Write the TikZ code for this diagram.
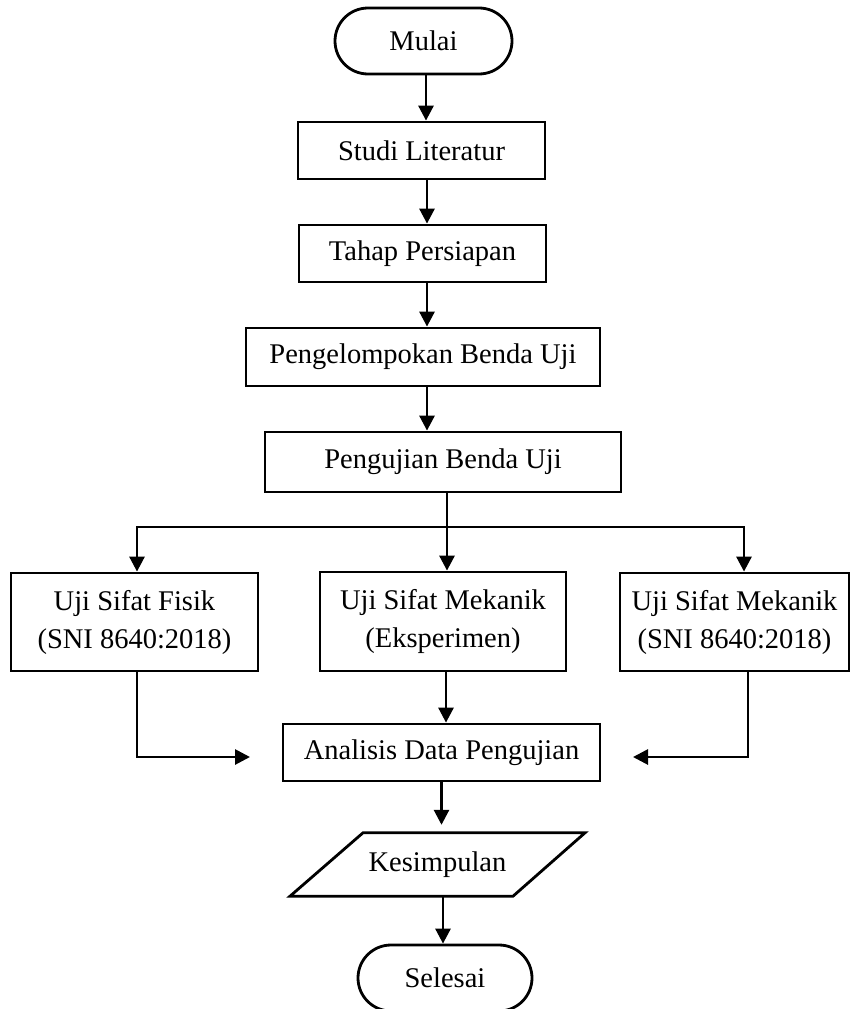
\documentclass[tikz,border=0pt]{standalone}
\usepackage{fontspec}
\setmainfont{Liberation Serif}
\usetikzlibrary{arrows.meta,calc}
\begin{document}
\begin{tikzpicture}[x=1pt,y=-1pt,
  every node/.style={font=\fontsize{28.5}{38}\selectfont, inner sep=0pt, align=center},
  box/.style={draw, line width=2.8pt, rectangle},
  term/.style={draw, line width=2.8pt, rectangle, rounded corners=33pt},
  conn/.style={line width=2.8pt, -{Triangle[width=15pt,length=15pt]}},
  plain/.style={line width=2.8pt}]
\useasboundingbox (0,0) rectangle (854,1009);
\clip (0,0) rectangle (854,1009);

\node[term, minimum width=177pt, minimum height=66pt] (mulai) at (423.5,41) {Mulai};
\node[box, minimum width=247pt, minimum height=57pt] (studi) at (421.5,150.5) {Studi Literatur};
\node[box, minimum width=247pt, minimum height=57pt] (tahap) at (422.5,253.5) {Tahap Persiapan};
\node[box, minimum width=354pt, minimum height=58pt] (kelompok) at (423,357) {Pengelompokan Benda Uji};
\node[box, minimum width=356pt, minimum height=60pt] (uji) at (443,462) {Pengujian Benda Uji};
\node[box, minimum width=247pt, minimum height=98pt] (fisik) at (134.5,622) {Uji Sifat Fisik\\(SNI 8640:2018)};
\node[box, minimum width=246pt, minimum height=99pt] (eksp) at (443,621.5) {Uji Sifat Mekanik\\(Eksperimen)};
\node[box, minimum width=229pt, minimum height=98pt] (sni) at (734.5,622) {Uji Sifat Mekanik\\(SNI 8640:2018)};
\node[box, minimum width=317pt, minimum height=57pt] (analisis) at (441.5,752.5) {Analisis Data Pengujian};
\node[minimum width=150pt, minimum height=63pt] (kes) at (437.5,864.5) {Kesimpulan};
\draw[plain] ($(kes.north)+(-74.5,0)$) -- ++(222,0) -- ($(kes.south)+(75.5,0)$) -- ++(-223,0) -- cycle;
\node[term, minimum width=174pt, minimum height=66pt] (selesai) at (445,978) {Selesai};

\draw[conn] ([xshift=2.5pt]mulai.south) -- ([xshift=2.5pt]mulai.south |- studi.north);
\draw[conn] ([xshift=5.5pt]studi.south) -- ([xshift=5.5pt]studi.south |- tahap.north);
\draw[conn] ([xshift=4.5pt]tahap.south) -- ([xshift=4.5pt]tahap.south |- kelompok.north);
\draw[conn] ([xshift=4pt]kelompok.south) -- ([xshift=4pt]kelompok.south |- uji.north);

\coordinate (split) at (447,527);
\coordinate (bl) at (137,527);
\coordinate (br) at (744,527);
\draw[conn] ([xshift=4pt]uji.south) -- ([xshift=4pt]uji.south |- eksp.north);
\draw[conn] (split) -- (bl) -- (bl |- fisik.north);
\draw[conn] (split) -- (br) -- (br |- sni.north);

\coordinate (lt) at (250,757);
\coordinate (rt) at (633,757);
\draw[conn] ([xshift=3pt]eksp.south) -- ([xshift=3pt]eksp.south |- analisis.north);
\draw[conn] ([xshift=2.5pt]fisik.south) |- (lt);
\draw[conn] ([xshift=13.5pt]sni.south) |- (rt);

\draw[conn] (analisis.south) -- ([yshift=8pt]analisis.south |- kes.north);
\draw[conn] ([xshift=5.5pt]kes.south) -- ([xshift=5.5pt]kes.south |- selesai.north);
\end{tikzpicture}
\end{document}
